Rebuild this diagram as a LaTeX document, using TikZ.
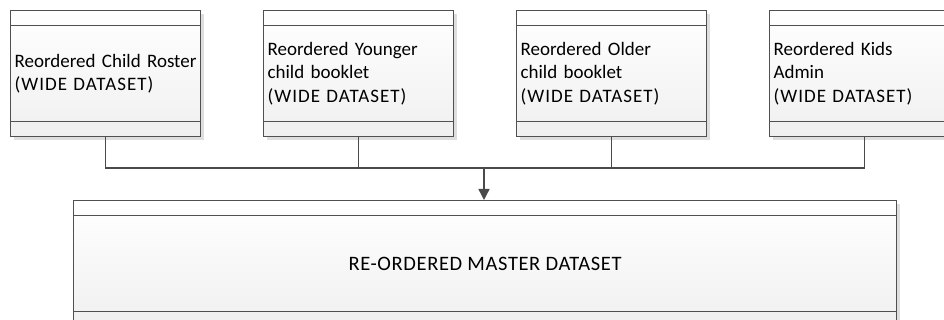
\documentclass[tikz,border=0pt]{standalone}
\usepackage{fontspec}
\setmainfont{Carlito}
\usetikzlibrary{shadows,arrows.meta}
\definecolor{edge}{HTML}{505050}
\definecolor{wire}{HTML}{4A4A4A}
% capitals are set a little looser, as in the source tables
\newcommand{\capsline}[1]{{\addfontfeature{LetterSpace=5.5}#1}}
\begin{document}
\begin{tikzpicture}[x=1pt,y=-1pt,
  tablebox/.style={draw=edge, line width=1.1pt,
    top color=white, bottom color=black!6,
    drop shadow={shadow xshift=3pt, shadow yshift=-3pt, fill=black!13, opacity=1},
    anchor=north west, inner sep=4pt,
    font=\fontsize{19}{23.5}\selectfont},
  small/.style={tablebox, minimum width=190pt, minimum height=126pt,
    text width=182pt, align=left},
  master/.style={tablebox, minimum width=823pt, minimum height=126pt,
    align=center, font=\fontsize{20.5}{24}\selectfont\addfontfeature{LetterSpace=3}},
  rule/.style={draw=edge, line width=1.1pt},
  conn/.style={draw=wire, line width=1.4pt},
  tip/.style={-{Triangle[length=11pt,width=11pt]}}]

\clip (0,0) rectangle (944,320);
\fill[white] (0,0) rectangle (944,320);

% source tables
\node[small] (b1) at (10,10)  {Reordered Child Roster\\\capsline{(WIDE DATASET)}};
\node[small] (b2) at (263,10) {Reordered Younger\\child booklet\\\capsline{(WIDE DATASET)}};
\node[small] (b3) at (516,10) {Reordered Older\\child booklet\\\capsline{(WIDE DATASET)}};
\node[small] (b4) at (769,10) {Reordered Kids\\Admin\\\capsline{(WIDE DATASET)}};

% merged table
\node[master] (m) at (73,200) {RE-ORDERED MASTER DATASET};

% header and footer compartments
\foreach \n in {b1,b2,b3,b4,m}{
  \draw[rule] ([yshift=-15.5pt]\n.north west) -- ([yshift=-15.5pt]\n.north east);
  \draw[rule] ([yshift=16pt]\n.south west) -- ([yshift=16pt]\n.south east);
}

% merge connectors
\coordinate (bus) at (484,168);
\draw[conn] (b1.south) |- (bus) -| (b4.south);
\draw[conn] (b2.south) -- (b2.south |- bus);
\draw[conn] (b3.south) -- (b3.south |- bus);
\draw[conn,tip] (bus) -- (bus |- m.north);
\end{tikzpicture}
\end{document}
